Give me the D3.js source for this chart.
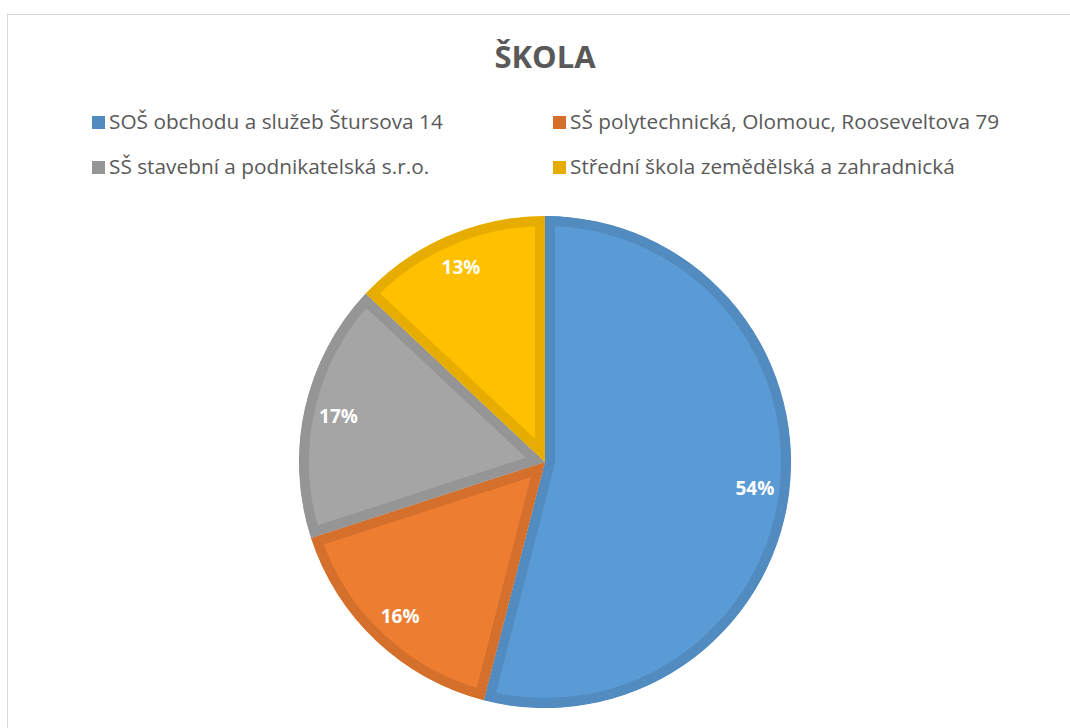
<!DOCTYPE html>
<html>
<head>
<meta charset="utf-8">
<script src="https://cdn.jsdelivr.net/npm/d3@7"></script>
<style>
  body { margin: 0; background: #fff; }
  svg { display: block; }
</style>
</head>
<body>
<div id="main"></div>
<script>
const ctx = {
    W: 1070,
    H: 728,
    CX: 545,
    CY: 462,
    R: 246,
    FONT: "'Open Sans', sans-serif"
};

// data
const title = "ŠKOLA";
const schools = [
    "SOŠ obchodu a služeb Štursova 14",
    "SŠ polytechnická, Olomouc, Rooseveltova 79",
    "SŠ stavební a podnikatelská s.r.o.",
    "Střední škola zemědělská a zahradnická"
];
const shares = [54, 16, 17, 13];

const fills = ["#5b9bd5", "#ed7d31", "#a5a5a5", "#ffc000"];
const strokes = ["#528bc0", "#d5702c", "#959595", "#e6ad00"];

function createViz() {
    const svg = d3.select("#main").append("svg")
        .attr("width", ctx.W)
        .attr("height", ctx.H);

    // chart frame
    svg.append("rect")
        .attr("x", 7.5).attr("y", 14.5)
        .attr("width", 1100).attr("height", 800)
        .attr("fill", "#fff")
        .attr("stroke", "#d9d9d9");

    svg.append("text")
        .attr("x", ctx.CX).attr("y", 68)
        .attr("text-anchor", "middle")
        .attr("font-family", ctx.FONT)
        .attr("font-weight", "bold")
        .attr("font-size", 31)
        .attr("fill", "#595959")
        .text(title);

    // legend 2x2
    const legPos = [[92, 122], [553, 122], [92, 167], [553, 167]];
    const leg = svg.append("g");
    schools.forEach((s, i) => {
        const g = leg.append("g").attr("transform", `translate(${legPos[i][0]},${legPos[i][1]})`);
        g.append("rect")
            .attr("x", 0).attr("y", -6)
            .attr("width", 13).attr("height", 13)
            .attr("fill", strokes[i]);
        g.append("text")
            .attr("x", 17).attr("y", 7)
            .attr("font-family", ctx.FONT)
            .attr("font-size", 20.8)
            .attr("fill", "#595959")
            .text(s);
    });

    const pie = d3.pie().sort(null).value(d => d);
    const arcs = pie(shares);
    const arc = d3.arc().innerRadius(0).outerRadius(ctx.R);
    const labelArc = d3.arc().innerRadius(ctx.R * 0.86).outerRadius(ctx.R * 0.86);

    const pieG = svg.append("g").attr("transform", `translate(${ctx.CX},${ctx.CY})`);
    const defs = svg.append("defs");

    arcs.forEach((a, i) => {
        defs.append("clipPath").attr("id", "clip" + i)
            .append("path").attr("d", arc(a));
        pieG.append("path")
            .attr("d", arc(a))
            .attr("fill", fills[i])
            .attr("stroke", strokes[i])
            .attr("stroke-width", 20)
            .attr("stroke-linejoin", "miter")
            .attr("clip-path", `url(#clip${i})`);
    });

    const total = d3.sum(shares);
    pieG.selectAll("text.lbl")
        .data(arcs)
        .enter()
        .append("text")
        .attr("class", "lbl")
        .attr("transform", d => `translate(${labelArc.centroid(d)})`)
        .attr("text-anchor", "middle")
        .attr("dy", "0.35em")
        .attr("font-family", ctx.FONT)
        .attr("font-weight", "bold")
        .attr("font-size", 19)
        .attr("fill", "#fff")
        .text(d => Math.round(d.data / total * 100) + "%");
}

createViz();
</script>
</body>
</html>
